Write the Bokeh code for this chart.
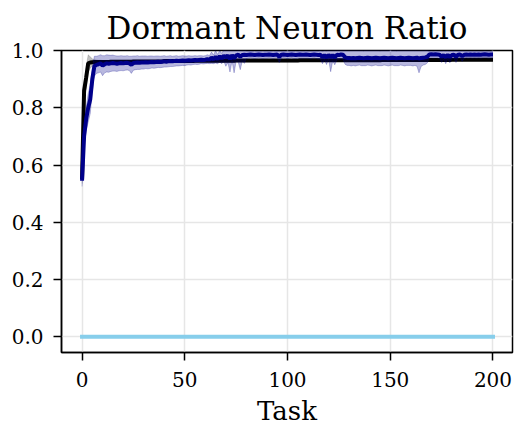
from bokeh.plotting import figure
from bokeh.models import Range1d, FixedTicker, ColumnDataSource, CustomJSTickFormatter
from bokeh.embed import file_html
from bokeh.resources import INLINE

tasks = list(range(201))

blue_mean = [
    0.545, 0.70, 0.76, 0.80, 0.83, 0.90, 0.945, 0.950, 0.952, 0.955,
    0.947, 0.952, 0.955, 0.954, 0.955, 0.956, 0.955, 0.954, 0.955, 0.956,
    0.955, 0.956, 0.957, 0.955, 0.950, 0.956, 0.957, 0.958, 0.957, 0.958,
    0.958, 0.959, 0.958, 0.959, 0.960, 0.959, 0.960, 0.961, 0.960, 0.961,
    0.962, 0.961, 0.962, 0.963, 0.962, 0.963, 0.964, 0.963, 0.964, 0.965,
    0.964, 0.965, 0.966, 0.965, 0.966, 0.967, 0.966, 0.967, 0.968, 0.967,
    0.968, 0.970, 0.968, 0.975, 0.969, 0.978, 0.970, 0.980, 0.972, 0.982,
    0.975, 0.983, 0.970, 0.984, 0.972, 0.983, 0.985, 0.978, 0.984, 0.985,
    0.984, 0.985, 0.986, 0.985, 0.984, 0.985, 0.986, 0.985, 0.984, 0.985,
    0.985, 0.986, 0.985, 0.984, 0.985, 0.986, 0.978, 0.985, 0.986, 0.985,
    0.984, 0.985, 0.986, 0.985, 0.984, 0.985, 0.986, 0.985, 0.985, 0.986,
    0.985, 0.984, 0.985, 0.986, 0.985, 0.984, 0.985, 0.976, 0.984, 0.975,
    0.985, 0.976, 0.984, 0.975, 0.985, 0.984, 0.986, 0.985, 0.976, 0.974,
    0.974, 0.973, 0.974, 0.973, 0.974, 0.975, 0.974, 0.973, 0.974, 0.975,
    0.974, 0.973, 0.974, 0.975, 0.974, 0.973, 0.974, 0.975, 0.974, 0.973,
    0.974, 0.975, 0.974, 0.973, 0.974, 0.975, 0.974, 0.973, 0.974, 0.975,
    0.974, 0.973, 0.974, 0.975, 0.972, 0.974, 0.975, 0.976, 0.978, 0.986,
    0.987, 0.986, 0.987, 0.986, 0.985, 0.978, 0.984, 0.976, 0.985, 0.977,
    0.984, 0.985, 0.978, 0.985, 0.986, 0.980, 0.985, 0.986, 0.985, 0.986,
    0.985, 0.986, 0.985, 0.986, 0.985, 0.986, 0.987, 0.986, 0.985, 0.986,
    0.986,
]

blue_std = [
    0.020, 0.030, 0.040, 0.050, 0.050, 0.040, 0.035, 0.030, 0.030, 0.030,
    0.035, 0.030, 0.030, 0.030, 0.028, 0.028, 0.027, 0.027, 0.026, 0.026,
    0.026, 0.025, 0.025, 0.025, 0.030, 0.025, 0.024, 0.024, 0.023, 0.023,
    0.023, 0.022, 0.022, 0.022, 0.021, 0.021, 0.021, 0.020, 0.020, 0.020,
    0.020, 0.019, 0.019, 0.019, 0.018, 0.018, 0.018, 0.017, 0.017, 0.017,
    0.017, 0.016, 0.016, 0.016, 0.015, 0.015, 0.015, 0.015, 0.014, 0.014,
    0.014, 0.015, 0.014, 0.020, 0.015, 0.022, 0.016, 0.020, 0.018, 0.020,
    0.030, 0.025, 0.045, 0.020, 0.050, 0.020, 0.025, 0.045, 0.020, 0.030,
    0.012, 0.012, 0.012, 0.012, 0.012, 0.012, 0.012, 0.012, 0.012, 0.012,
    0.012, 0.012, 0.012, 0.012, 0.012, 0.012, 0.020, 0.012, 0.012, 0.012,
    0.013, 0.012, 0.012, 0.013, 0.012, 0.012, 0.013, 0.012, 0.012, 0.013,
    0.012, 0.013, 0.012, 0.012, 0.013, 0.014, 0.015, 0.022, 0.016, 0.024,
    0.016, 0.050, 0.020, 0.025, 0.018, 0.016, 0.015, 0.016, 0.024, 0.026,
    0.026, 0.027, 0.026, 0.027, 0.026, 0.026, 0.027, 0.026, 0.027, 0.026,
    0.026, 0.027, 0.026, 0.026, 0.027, 0.026, 0.027, 0.026, 0.026, 0.027,
    0.026, 0.026, 0.027, 0.026, 0.027, 0.026, 0.026, 0.027, 0.026, 0.027,
    0.026, 0.027, 0.026, 0.030, 0.050, 0.030, 0.026, 0.025, 0.022, 0.012,
    0.012, 0.012, 0.012, 0.012, 0.013, 0.020, 0.015, 0.022, 0.014, 0.020,
    0.014, 0.013, 0.020, 0.013, 0.012, 0.018, 0.013, 0.012, 0.012, 0.012,
    0.012, 0.012, 0.012, 0.012, 0.012, 0.012, 0.012, 0.012, 0.012, 0.012,
    0.012,
]

black_mean = [
    0.550, 0.860, 0.905, 0.955, 0.958, 0.959, 0.960, 0.960, 0.960, 0.960,
    0.960, 0.960, 0.960, 0.960, 0.961, 0.961, 0.961, 0.961, 0.961, 0.961,
    0.961, 0.961, 0.961, 0.961, 0.961, 0.962, 0.962, 0.962, 0.962, 0.962,
    0.962, 0.962, 0.962, 0.962, 0.962, 0.962, 0.962, 0.962, 0.962, 0.962,
    0.963, 0.963, 0.963, 0.963, 0.963, 0.963, 0.963, 0.963, 0.963, 0.963,
    0.963, 0.963, 0.963, 0.963, 0.963, 0.964, 0.964, 0.964, 0.964, 0.964,
    0.964, 0.964, 0.964, 0.964, 0.964, 0.964, 0.964, 0.964, 0.964, 0.964,
    0.964, 0.964, 0.964, 0.964, 0.964, 0.965, 0.965, 0.965, 0.965, 0.965,
    0.965, 0.965, 0.965, 0.965, 0.965, 0.965, 0.965, 0.965, 0.965, 0.965,
    0.965, 0.965, 0.965, 0.965, 0.965, 0.965, 0.965, 0.965, 0.965, 0.965,
    0.965, 0.965, 0.965, 0.965, 0.965, 0.965, 0.966, 0.966, 0.966, 0.966,
    0.966, 0.966, 0.966, 0.966, 0.966, 0.966, 0.966, 0.966, 0.966, 0.966,
    0.966, 0.966, 0.966, 0.966, 0.966, 0.966, 0.966, 0.966, 0.966, 0.966,
    0.966, 0.966, 0.966, 0.966, 0.966, 0.966, 0.966, 0.966, 0.966, 0.966,
    0.966, 0.966, 0.966, 0.966, 0.966, 0.966, 0.967, 0.967, 0.967, 0.967,
    0.967, 0.967, 0.967, 0.967, 0.967, 0.967, 0.967, 0.967, 0.967, 0.967,
    0.967, 0.967, 0.967, 0.967, 0.967, 0.967, 0.967, 0.967, 0.967, 0.967,
    0.967, 0.967, 0.967, 0.967, 0.967, 0.967, 0.967, 0.967, 0.967, 0.967,
    0.968, 0.968, 0.968, 0.968, 0.968, 0.968, 0.968, 0.968, 0.968, 0.968,
    0.968, 0.968, 0.968, 0.968, 0.968, 0.968, 0.968, 0.968, 0.968, 0.968,
    0.968,
]

black_std = [0.015, 0.030, 0.040, 0.030, 0.020, 0.012, 0.008, 0.007, 0.006, 0.006] + [0.005] * 191

zero_ratio = [0.0] * 201

x_ticks = [0, 50, 100, 150, 200]
y_ticks = [0.0, 0.2, 0.4, 0.6, 0.8, 1.0]

SERIF = "DejaVu Serif"

def band(mean, std):
    lo = [m - s for m, s in zip(mean, std)]
    hi = [m + s for m, s in zip(mean, std)]
    return lo, hi

blue_lo, blue_hi = band(blue_mean, blue_std)
black_lo, black_hi = band(black_mean, black_std)

src = ColumnDataSource(dict(
    x=tasks, blue=blue_mean, blue_lo=blue_lo, blue_hi=blue_hi,
    black=black_mean, black_lo=black_lo, black_hi=black_hi, zero=zero_ratio,
))

p = figure(width=532, height=437, output_backend="svg", toolbar_location=None,
           x_range=Range1d(-10, 209.5), y_range=Range1d(-0.055, 1.0),
           min_border_left=61, min_border_right=20, min_border_top=50, min_border_bottom=85,
           title="Dormant Neuron Ratio")

p.title.text_font = SERIF
p.title.text_font_size = "31px"
p.title.text_font_style = "normal"
p.title.text_color = "black"
p.title.align = "center"
p.title.standoff = 9

p.outline_line_color = "black"
p.outline_line_width = 1.5
p.outline_line_alpha = 1.0

for ax in (p.xaxis[0], p.yaxis[0]):
    ax.axis_line_width = 1.5
    ax.major_tick_line_width = 1.5
    ax.major_tick_out = 8
    ax.major_tick_in = 0
    ax.minor_tick_out = 0
    ax.minor_tick_in = 0
    ax.major_label_text_font = SERIF
    ax.major_label_text_font_size = "20px"
    ax.major_label_text_color = "black"
    ax.axis_label_text_font = SERIF
    ax.axis_label_text_font_style = "normal"
    ax.axis_label_text_color = "black"

p.xaxis.ticker = FixedTicker(ticks=x_ticks)
p.yaxis.ticker = FixedTicker(ticks=y_ticks)
p.yaxis.formatter = CustomJSTickFormatter(code="return tick.toFixed(1);")
p.xaxis.major_label_standoff = 11
p.yaxis.major_label_standoff = 10
p.xaxis.axis_label = "Task"
p.xaxis.axis_label_text_font_size = "26px"
p.xaxis.axis_label_standoff = 6

p.grid.grid_line_color = "#e6e6e6"
p.grid.grid_line_width = 1.5

p.line("x", "zero", source=src, line_color="#87ceeb", line_width=4, line_cap="square")

p.varea(x="x", y1="black_lo", y2="black_hi", source=src, fill_color="black", fill_alpha=0.25)
p.line("x", "black_lo", source=src, line_color="black", line_alpha=0.15, line_width=1)
p.line("x", "black_hi", source=src, line_color="black", line_alpha=0.15, line_width=1)
p.line("x", "black", source=src, line_color="black", line_width=4)

p.varea(x="x", y1="blue_lo", y2="blue_hi", source=src, fill_color="#00008b", fill_alpha=0.28)
p.line("x", "blue_lo", source=src, line_color="#00008b", line_alpha=0.25, line_width=1)
p.line("x", "blue_hi", source=src, line_color="#00008b", line_alpha=0.25, line_width=1)
p.line("x", "blue", source=src, line_color="#00008b", line_width=4)

open("out.html", "w").write(file_html(p, INLINE))
